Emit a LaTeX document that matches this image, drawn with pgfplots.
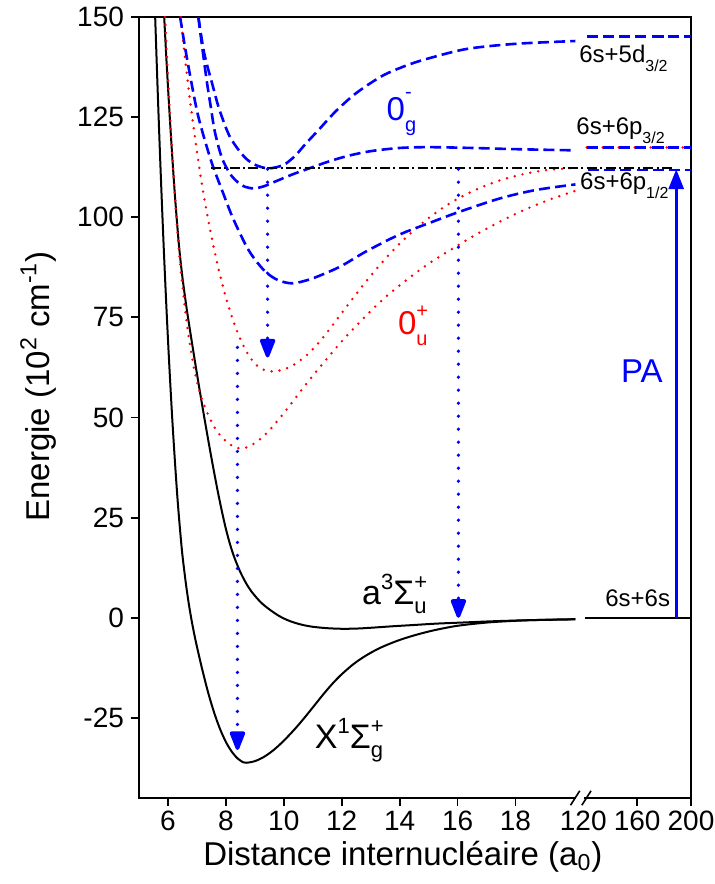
\documentclass[border=0pt]{standalone}
\usepackage{amsmath}
\usepackage{pgfplots}
\pgfplotsset{compat=1.18}
\usepackage{fontspec}
\setmainfont{Liberation Sans}
\usetikzlibrary{arrows.meta}
\newcommand{\fs}[1]{\fontsize{#1}{#1}\selectfont}
\tikzset{
  solidc/.style={black, line width=1pt, smooth, tension=0.5},
  redc/.style={red, line width=1.35pt, line cap=round, dash pattern=on 0pt off 4pt, smooth, tension=0.5},
  bluec/.style={blue, line width=1.3pt, dash pattern=on 5.5pt off 2.6pt, smooth, tension=0.5},
  darrow/.style={blue, line width=1.8pt, line cap=round, dash pattern=on 0pt off 6.5pt, -{Triangle[width=8pt,length=11pt,round=false]}},
}
\begin{document}
\begin{tikzpicture}
\begin{axis}[
  scale only axis, width=276pt, height=390.5pt,
  xmin=5, xmax=24.06, ymin=-45, ymax=150,
  axis line style={line width=0.9pt},
  xtick={6,8,10,12,14,16,18,20.34,22.2,24.06},
  xticklabels={6,8,10,12,14,16,18,120,160,200},
  ytick={-25,0,25,50,75,100,125,150},
  yticklabels={-25,0,25,50,75,100,125,150},
  tick align=outside, tick pos=left,
  major tick length=4pt,
  tick style={line width=0.9pt, black},
  ticklabel style={font=\fs{14}},
  xticklabel style={yshift=1pt},
  xlabel={Distance internucléaire (a\textsubscript{0})},
  ylabel={Energie (10\textsuperscript{2} cm\textsuperscript{-1})},
  label style={font=\fs{16.5}},
  xlabel style={at={(axis description cs:0.478,-0.0858)}, anchor=base},
  ylabel style={at={(axis description cs:-0.163,0.527)}, anchor=base},
]
% X state
\addplot[solidc] coordinates {(5.55,151.8) (5.65,130.6) (5.75,111) (5.85,93.1) (5.95,77) (6.05,62.5) (6.15,49.5) (6.25,38) (6.35,27.8) (6.48,17) (6.6,9.6) (6.7,4.4) (6.8,0) (6.9,-3.8) (7.0,-7.2) (7.2,-13.4) (7.4,-19.0) (7.6,-23.8) (7.8,-27.8) (8.0,-31.0) (8.2,-33.4) (8.4,-35.1) (8.6,-36.1) (8.72,-36.2) (9.0,-35.8) (9.3,-34.8) (9.6,-33.3) (9.9,-31.4) (10.2,-29.2) (10.5,-26.8) (10.8,-24.2) (11.1,-21.5) (11.4,-18.8) (11.7,-16.3) (12.0,-14.1) (12.4,-11.6) (12.8,-9.6) (13.3,-7.6) (13.9,-5.8) (14.5,-4.4) (15.2,-3.1) (16.0,-2.0) (17.0,-1.2) (18.0,-0.75) (19.0,-0.5) (20.07,-0.35)};
% a state
\addplot[solidc] coordinates {(5.87,150) (5.95,139) (6.05,126.5) (6.15,115) (6.25,104.5) (6.38,93) (6.5,85) (6.65,77) (6.8,70) (6.95,63.2) (7.1,56.6) (7.25,50.2) (7.4,44) (7.55,38) (7.7,32.3) (7.85,27) (8.0,22.2) (8.15,18.2) (8.3,14.9) (8.5,11.4) (8.7,8.6) (8.9,6.4) (9.2,3.9) (9.5,2.1) (9.85,0.4) (10.2,-0.8) (10.6,-1.7) (11.0,-2.25) (11.5,-2.6) (12.0,-2.75) (12.5,-2.7) (13.0,-2.5) (13.7,-2.15) (14.5,-1.8) (15.3,-1.45) (16.3,-1.15) (17.3,-0.85) (18.5,-0.6) (20.07,-0.4)};
% 0u+ curves
\addplot[redc] coordinates {(5.9,150) (6.0,135) (6.1,121.5) (6.2,109.5) (6.3,99) (6.4,90) (6.5,83) (6.6,76.5) (6.7,71) (6.8,66.3) (6.9,62.3) (7.05,57.6) (7.2,54) (7.4,50.5) (7.6,47.6) (7.8,45.6) (8.0,44.1) (8.2,43.0) (8.45,42.3) (8.7,42.5) (8.95,43.4) (9.25,45.0) (9.55,47.2) (9.9,50.2) (10.3,53.9) (10.7,57.7) (11.1,61.3) (11.5,64.8) (12.0,69.0) (12.5,72.9) (13.0,76.6) (13.5,80.0) (14.0,83.0) (14.5,85.8) (15.0,88.4) (15.7,91.6) (16.5,95.1) (17.3,98.3) (18.2,101.5) (19.1,104.2) (20.07,106.6)};
\addplot[redc] coordinates {(6.44,150) (6.6,139) (6.8,127) (7.0,116.5) (7.2,107) (7.4,99) (7.6,91.8) (7.8,85.5) (8.0,80) (8.2,75.3) (8.4,71.3) (8.6,68) (8.8,65.4) (9.0,63.5) (9.2,62.3) (9.4,61.7) (9.6,61.5) (9.9,61.8) (10.2,62.6) (10.5,63.9) (10.8,65.6) (11.1,67.8) (11.4,70.4) (11.7,73.2) (12.0,76.1) (12.4,79.9) (12.8,83.6) (13.2,87.1) (13.6,90.4) (14.0,93.4) (14.5,96.8) (15.0,99.8) (15.5,102.4) (16.0,104.6) (16.7,107.1) (17.5,109.3) (18.3,110.8) (19.1,111.8) (20.07,112.3)};
\addplot[redc] coordinates {(20.46,117.4) (24.06,117.4)};
% 0g- curves
\addplot[bluec] coordinates {(6.42,150) (6.6,142) (6.8,134) (7.02,126) (7.25,119.8) (7.54,113) (7.88,106.5) (8.23,100) (8.69,93) (9.0,89.5) (9.38,86.3) (9.8,84.3) (10.3,83.5) (10.9,84.5) (11.5,86.2) (12.03,88) (12.8,91.3) (13.65,94.5) (14.2,96.3) (15.0,98.5) (16,101.2) (17.46,104.7) (18.7,106.8) (20.07,108.2)};
\addplot[bluec] coordinates {(7.05,150) (7.2,141.5) (7.35,133.5) (7.48,127.5) (7.6,122) (7.75,117.5) (7.88,114.5) (8.05,112) (8.2,110.3) (8.4,108.8) (8.63,107.7) (8.95,107.2) (9.3,107.7) (9.7,108.9) (10.3,110.7) (10.8,112) (11.5,113.8) (12.2,115.3) (13.0,116.5) (14.0,117.3) (15.0,117.5) (16.5,117.3) (18,117) (20.07,116.7)};
\addplot[bluec] coordinates {(7.05,150) (7.25,141) (7.54,133) (7.77,127) (8.11,120.5) (8.46,116.6) (8.75,114.3) (9.04,113) (9.44,112.2) (9.8,112.6) (10.07,113.4) (10.4,115.4) (10.75,118.3) (11.2,121.8) (11.8,126.5) (12.5,131) (13.4,135.3) (14.2,137.8) (14.92,139.5) (16.3,142) (18,143.3) (20.07,144)};
\addplot[bluec] coordinates {(20.46,145.2) (24.06,145.2)};
\addplot[bluec] coordinates {(20.46,117.4) (24.06,117.4)};
\addplot[bluec] coordinates {(20.5,111.8) (24.06,111.8)};
% asymptote 6s+6s
\addplot[black, line width=1pt] coordinates {(20.4,0) (24.06,0)};
% dash-dot level
\addplot[black, line width=1.2pt, dash pattern=on 5pt off 1.7pt on 1pt off 1.7pt] coordinates {(7.48,112.3) (23.4,112.3)};
% arrows
\addplot[darrow] coordinates {(9.44,112) (9.44,65)};
\addplot[darrow] coordinates {(8.4,67.5) (8.4,-33)};
\addplot[darrow] coordinates {(16.03,112) (16.03,0)};
\addplot[blue, line width=1.5pt, -{Triangle[width=7.5pt,length=10pt]}] coordinates {(23.55,0) (23.55,112)};
% labels
\node[anchor=base west, inner sep=0, font=\fs{12}] at (axis cs:20.19,138.75) {6s+5d\raisebox{-4.5pt}{\fs{8}3/2}};
\node[anchor=base west, inner sep=0, font=\fs{12}] at (axis cs:20.09,120.75) {6s+6p\raisebox{-4.5pt}{\fs{8}3/2}};
\node[anchor=base west, inner sep=0, font=\fs{12}] at (axis cs:20.22,107) {6s+6p\raisebox{-4.5pt}{\fs{8}1/2}};
\node[anchor=base west, inner sep=0, font=\fs{12}] at (axis cs:21.09,2.8) {6s+6s};
\node[anchor=base west, inner sep=0, font=\fs{16.5}, text=blue] at (axis cs:21.63,58.8) {PA};
\node[anchor=base west, inner sep=0, font=\fs{16.5}, text=blue] at (axis cs:13.54,124.1) {0\rlap{\raisebox{11pt}{\fs{10}-}}\raisebox{-5.5pt}{\fs{10}g}};
\node[anchor=base west, inner sep=0, font=\fs{16.5}, text=red] at (axis cs:13.93,70.75) {0\rlap{\raisebox{8.5pt}{\fs{10}+}}\raisebox{-5.5pt}{\fs{10}u}};
\node[anchor=base west, inner sep=0, font=\fs{17}] at (axis cs:12.69,3.25) {a\raisebox{7.5pt}{\fs{11}3}Σ\rlap{\raisebox{7.5pt}{\fs{11}+}}\raisebox{-4.5pt}{\fs{11}u}};
\node[anchor=base west, inner sep=0, font=\fs{17}] at (axis cs:11.06,-32.6) {X\raisebox{7.5pt}{\fs{11}1}Σ\rlap{\raisebox{7.5pt}{\fs{11}+}}\raisebox{-4.5pt}{\fs{11}g}};
\coordinate (SW) at (rel axis cs:0,0);
\coordinate (NE) at (rel axis cs:1,1);
\coordinate (G1) at (axis cs:20.1,-45);
\coordinate (G2) at (axis cs:20.38,-45);
\coordinate (S1) at (axis cs:20.06,-45);
\coordinate (S2) at (axis cs:20.45,-45);
\end{axis}
\fill[white] ([yshift=-4.5pt]G1) rectangle ([yshift=1pt]G2);
\draw[black, line width=0.8pt] ([shift={(-2.3pt,-3.6pt)}]S1) -- ([shift={(2.3pt,3.6pt)}]S1);
\draw[black, line width=0.8pt] ([shift={(-2.3pt,-3.6pt)}]S2) -- ([shift={(2.3pt,3.6pt)}]S2);
\pgfresetboundingbox
\path ([shift={(-69.5pt,-43pt)}]SW) rectangle ([shift={(12pt,8.5pt)}]NE);
\end{tikzpicture}
\end{document}
